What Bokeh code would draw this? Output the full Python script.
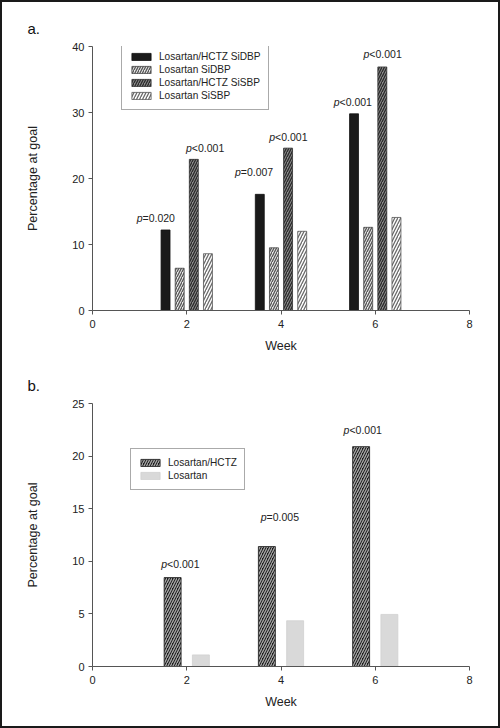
from bokeh.plotting import figure
from bokeh.layouts import column
from bokeh.models import (ColumnDataSource, Legend, LegendItem,
                          SingleIntervalTicker, FixedTicker, Range1d)
from bokeh.transform import dodge
from bokeh.core.properties import value
from bokeh.embed import file_html
from bokeh.resources import INLINE

# ---------------- data ----------------
weeks = [2, 4, 6]
x_ticks = [0, 2, 4, 6, 8]

a_series = ["Losartan/HCTZ SiDBP", "Losartan SiDBP", "Losartan/HCTZ SiSBP", "Losartan SiSBP"]
a_hctz_sidbp = [12.2, 17.6, 29.8]
a_los_sidbp = [6.4, 9.5, 12.6]
a_hctz_sisbp = [22.9, 24.6, 36.9]
a_los_sisbp = [8.6, 12.0, 14.1]
a_p_sidbp = ["=0.020", "=0.007", "<0.001"]
a_p_sisbp = ["<0.001", "<0.001", "<0.001"]

b_series = ["Losartan/HCTZ", "Losartan"]
b_hctz = [8.45, 11.4, 20.9]
b_los = [1.1, 4.35, 4.95]
b_p = ["<0.001", "=0.005", "<0.001"]

# ---------------- layout / style (pixels) ----------------
FONT = "Liberation Sans"
# label placement: horizontal shift of label centre from bar centre, rise above bar top
a_lab1_dx = [-10, -6, -1.5]
a_lab1_rise = [11.6, 22.4, 12.3]
a_lab2_dx = [11, 0, 0]
a_lab2_rise = [11.4, 10.7, 13.3]
b_lab_dx = [7.5, 12.7, 1.3]
b_lab_rise = [14, 30, 16.7]
P_SHIFT = -13  # junction between italic "p" and the rest, relative to label centre


def make_fig(h, ymax, yint, left, right, top, bottom, letter, letter_off):
    p = figure(width=496, height=h, x_range=Range1d(0, 8), y_range=Range1d(0, ymax),
               output_backend="svg", toolbar_location=None,
               min_border_left=left, min_border_right=right,
               min_border_top=top, min_border_bottom=bottom)
    p.xgrid.visible = False
    p.ygrid.visible = False
    p.outline_line_color = None
    p.background_fill_color = "white"
    p.border_fill_color = "white"
    p.title.text = letter
    p.title.align = "left"
    p.title.offset = letter_off
    p.title.standoff = 20
    p.title.text_font = FONT
    p.title.text_font_style = "normal"
    p.title.text_font_size = "15px"
    p.title.text_color = "#111111"
    p.xaxis.ticker = FixedTicker(ticks=x_ticks)
    p.yaxis.ticker = SingleIntervalTicker(interval=yint, num_minor_ticks=0)
    p.axis.minor_tick_line_color = None
    p.axis.axis_line_color = "#555555"
    p.axis.major_tick_line_color = "#555555"
    p.axis.major_tick_out = 4
    p.axis.major_tick_in = 0
    p.axis.major_label_text_font = FONT
    p.axis.major_label_text_font_size = "11px"
    p.axis.major_label_text_color = "#222222"
    p.xaxis.major_label_standoff = 5
    p.yaxis.major_label_standoff = 4
    p.xaxis.axis_label = "Week"
    p.yaxis.axis_label = "Percentage at goal"
    p.axis.axis_label_text_font = FONT
    p.axis.axis_label_text_font_style = "normal"
    p.axis.axis_label_text_font_size = "12.5px"
    p.axis.axis_label_text_color = "#222222"
    p.xaxis.axis_label_standoff = 8
    p.yaxis.axis_label_standoff = 29
    return p


def p_labels(p, src, xcol, ycol, tcol, dxcol, risecol, off):
    common = dict(source=src, y=ycol, text_font=value(FONT), text_font_size="10.5px",
                  text_color="#222222", text_baseline="middle")
    p.text(x=dodge(xcol, off, range=p.x_range), text=value("p"), text_align="right",
           text_font_style="italic", x_offset=dxcol, y_offset=risecol, **common)
    p.text(x=dodge(xcol, off, range=p.x_range), text=tcol, text_align="left",
           x_offset=dxcol, y_offset=risecol, **common)


def style_legend(lg):
    lg.padding = 7
    lg.spacing = 0
    lg.margin = 0
    lg.label_standoff = 6
    lg.glyph_width = 24
    lg.glyph_height = 9
    lg.label_height = 13
    lg.label_text_font = FONT
    lg.label_text_font_size = "10.1px"
    lg.label_text_color = "#222222"
    lg.border_line_color = "#555555"
    lg.border_line_width = 1
    lg.background_fill_color = "white"
    lg.background_fill_alpha = 1.0


# ---------------- panel a ----------------
pa = make_fig(356, 40, 10, 90, 29, 44, 48, "a.", -65)
src_a = ColumnDataSource(dict(
    week=weeks, s1=a_hctz_sidbp, s2=a_los_sidbp, s3=a_hctz_sisbp, s4=a_los_sisbp,
    t1=a_p_sidbp, t2=a_p_sisbp,
    dx1=[d + P_SHIFT for d in a_lab1_dx], r1=[-r for r in a_lab1_rise],
    dx2=[d + P_SHIFT for d in a_lab2_dx], r2=[-r for r in a_lab2_rise],
))
W_A = 0.19
ra1 = pa.vbar(x=dodge("week", -0.45, range=pa.x_range), top="s1", width=W_A, source=src_a,
              fill_color="#1a1a1a", line_color="#111111", line_width=0.8)
ra2 = pa.vbar(x=dodge("week", -0.15, range=pa.x_range), top="s2", width=W_A, source=src_a,
              fill_color="#e8e8e8", hatch_pattern="/", hatch_color="#555555",
              hatch_scale=5, hatch_weight=1.3, line_color="#444444", line_width=0.8)
ra3 = pa.vbar(x=dodge("week", 0.15, range=pa.x_range), top="s3", width=W_A, source=src_a,
              fill_color="#8a8a8a", hatch_pattern="/", hatch_color="#2a2a2a",
              hatch_scale=5, hatch_weight=1.3, line_color="#333333", line_width=0.8)
ra4 = pa.vbar(x=dodge("week", 0.45, range=pa.x_range), top="s4", width=W_A, source=src_a,
              fill_color="white", hatch_pattern="/", hatch_color="#6a6a6a",
              hatch_scale=6, hatch_weight=1.3, line_color="#555555", line_width=0.8)
p_labels(pa, src_a, "week", "s1", "t1", "dx1", "r1", -0.45)
p_labels(pa, src_a, "week", "s3", "t2", "dx2", "r2", 0.15)

lga = Legend(items=[LegendItem(label=a_series[i], renderers=[r])
                    for i, r in enumerate([ra1, ra2, ra3, ra4])],
             location=(29, 200))
style_legend(lga)
pa.add_layout(lga)

# ---------------- panel b ----------------
pb = make_fig(368, 25, 5, 90, 29, 45, 60, "b.", -65)
src_b = ColumnDataSource(dict(
    week=weeks, s1=b_hctz, s2=b_los, t1=b_p,
    dx1=[d + P_SHIFT for d in b_lab_dx], r1=[-r for r in b_lab_rise],
))
W_B = 0.36
rb1 = pb.vbar(x=dodge("week", -0.3, range=pb.x_range), top="s1", width=W_B, source=src_b,
              fill_color="#1c1c1c", hatch_pattern="/", hatch_color="#a8a8a8",
              hatch_scale=5, hatch_weight=1.3, line_color="#222222", line_width=0.8)
rb2 = pb.vbar(x=dodge("week", 0.3, range=pb.x_range), top="s2", width=W_B, source=src_b,
              fill_color="#d9d9d9", line_color="#d0d0d0", line_width=0.8)
p_labels(pb, src_b, "week", "s1", "t1", "dx1", "r1", -0.3)

lgb = Legend(items=[LegendItem(label=b_series[i], renderers=[r])
                    for i, r in enumerate([rb1, rb2])],
             location=(38, 176))
style_legend(lgb)
pb.add_layout(lgb)

layout = column(pa, pb, spacing=0, styles={"border": "2px solid #1a1a1a"})
open("out.html", "w").write(file_html(layout, INLINE))
